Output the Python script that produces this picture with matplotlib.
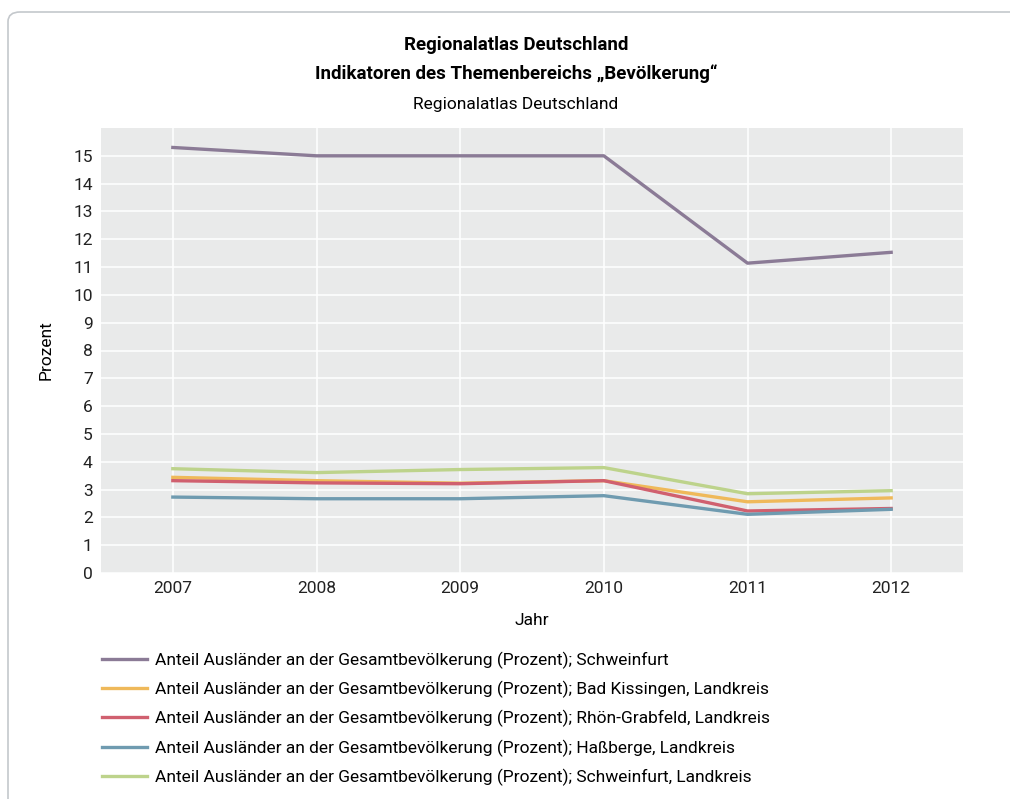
import matplotlib.pyplot as plt
from matplotlib.patches import FancyBboxPatch

plt.rcParams['font.family'] = ['Roboto', 'DejaVu Sans']

years = [2007, 2008, 2009, 2010, 2011, 2012]
schweinfurt = [15.3, 15.0, 15.0, 15.0, 11.14, 11.53]
bad_kissingen = [3.44, 3.32, 3.23, 3.32, 2.56, 2.70]
rhoen_grabfeld = [3.32, 3.24, 3.21, 3.32, 2.23, 2.32]
hassberge = [2.73, 2.67, 2.67, 2.78, 2.11, 2.29]
schweinfurt_lk = [3.75, 3.61, 3.72, 3.79, 2.85, 2.96]

prefix = 'Anteil Ausländer an der Gesamtbevölkerung (Prozent); '
series = [
    (schweinfurt, 'Schweinfurt', '#8b7b96'),
    (bad_kissingen, 'Bad Kissingen, Landkreis', '#efb95a'),
    (rhoen_grabfeld, 'Rhön-Grabfeld, Landkreis', '#d0606f'),
    (hassberge, 'Haßberge, Landkreis', '#6f9bb0'),
    (schweinfurt_lk, 'Schweinfurt, Landkreis', '#bdd38b'),
]

fig = plt.figure(figsize=(10.1, 7.99), dpi=100)
ax = fig.add_axes([101/1010, 1 - 573/799, (963-101)/1010, (573-128)/799])
ax.set_facecolor('#e9eaea')

for vals, name, col in series:
    ax.plot(years, vals, color=col, lw=2.4, label=prefix + name)

ax.set_xlim(2006.5, 2012.5)
ax.set_ylim(0, 16)
ax.set_yticks(range(0, 16))
ax.set_xticks(years)
ax.grid(color='white', lw=1.1)
ax.set_axisbelow(True)
for s in ax.spines.values():
    s.set_visible(False)
ax.tick_params(length=0, labelsize=12.5, colors='#222222', pad=6)
ax.set_xlabel('Jahr', fontsize=12.5, labelpad=12)
ax.set_ylabel('Prozent', fontsize=12.5, labelpad=14)

fig.text(516/1010, 1 - 45/799, 'Regionalatlas Deutschland', ha='center', va='center',
         fontsize=13.5, fontweight='bold')
fig.text(516/1010, 1 - 74/799, 'Indikatoren des Themenbereichs „Bevölkerung“', ha='center',
         va='center', fontsize=13.5, fontweight='bold')
fig.text(516/1010, 1 - 105/799, 'Regionalatlas Deutschland', ha='center', va='center',
         fontsize=12.5)

fig.legend(loc='upper left', bbox_to_anchor=(86/1010, 1 - 636/799), frameon=False,
           fontsize=12.5, handlelength=2.6, handletextpad=0.5, labelspacing=0.69)

frame = FancyBboxPatch((8/1010, -0.05), 1.2, 1 - 12/799 + 0.05,
                       boxstyle='round,pad=0,rounding_size=0.012',
                       transform=fig.transFigure, fill=False, ec='#c4c8cc', lw=1.2)
fig.patches.append(frame)

fig.savefig('out.png', dpi=100)
